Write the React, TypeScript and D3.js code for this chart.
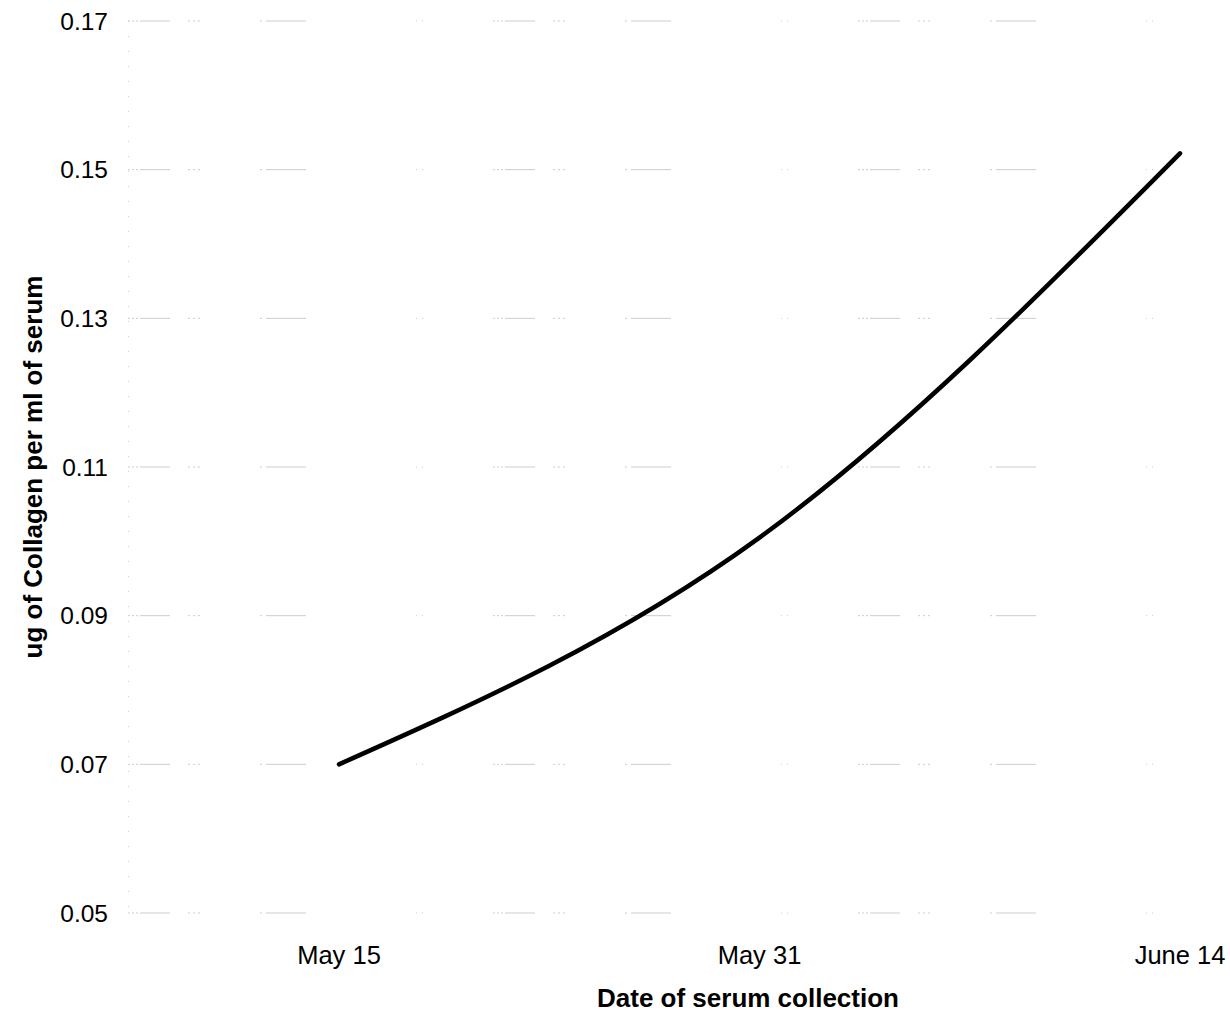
import React, { useEffect, useRef } from 'react';
import * as d3 from 'd3';

// collagen in serum on each collection date
const dates = ['May 15', 'May 31', 'June 14'];
const collagen = [0.07, 0.1005, 0.1522];
const yTicks = [0.05, 0.07, 0.09, 0.11, 0.13, 0.15, 0.17];

const WIDTH = 1230;
const HEIGHT = 1015;
const margin = { top: 21, right: 50, bottom: 102, left: 128 };

const App: React.FC = () => {
  const svgRef = useRef<SVGSVGElement>(null);

  useEffect(() => {
    if (!svgRef.current) return;
    const svg = d3.select(svgRef.current);
    svg.selectAll('*').remove();

    const innerH = HEIGHT - margin.top - margin.bottom;
    const font = 'Liberation Sans, Arial, sans-serif';

    const x = d3.scalePoint<string>()
      .domain(dates)
      .range([339, 1180]);

    const y = d3.scaleLinear()
      .domain([0.05, 0.17])
      .range([margin.top + innerH, margin.top]);

    // faint broken gridlines (scanned look)
    svg.append('g')
      .selectAll('line')
      .data(yTicks)
      .enter().append('line')
      .attr('x1', margin.left)
      .attr('x2', WIDTH - 8)
      .attr('y1', d => y(d))
      .attr('y2', d => y(d))
      .attr('stroke', '#cdcdcd')
      .attr('stroke-width', 1)
      .attr('stroke-dasharray', '2,2,2,2,2,2,30,18,2,3,2,3,2,60,2,4,40,110,1,5,1,70');

    // faint y axis line
    svg.append('line')
      .attr('x1', margin.left + 0.5)
      .attr('x2', margin.left + 0.5)
      .attr('y1', y(0.17))
      .attr('y2', y(0.05))
      .attr('stroke', '#cfcfcf')
      .attr('stroke-dasharray', '1,14');

    // y tick labels
    svg.append('g')
      .selectAll('text')
      .data(yTicks)
      .enter().append('text')
      .attr('x', 108)
      .attr('y', d => y(d))
      .attr('dy', '0.35em')
      .attr('text-anchor', 'end')
      .attr('font-family', font)
      .attr('font-size', 24.5)
      .attr('fill', '#000')
      .text(d => d.toFixed(2));

    // x tick labels
    svg.append('g')
      .selectAll('text')
      .data(dates)
      .enter().append('text')
      .attr('x', d => x(d)!)
      .attr('y', 964)
      .attr('text-anchor', 'middle')
      .attr('font-family', font)
      .attr('font-size', 25.5)
      .attr('fill', '#000')
      .text(d => d);

    // axis titles
    svg.append('text')
      .attr('x', 748)
      .attr('y', 1007)
      .attr('text-anchor', 'middle')
      .attr('font-family', font)
      .attr('font-size', 26)
      .attr('font-weight', 'bold')
      .text('Date of serum collection');

    svg.append('text')
      .attr('transform', `translate(42,${y(0.11)}) rotate(-90)`)
      .attr('text-anchor', 'middle')
      .attr('font-family', font)
      .attr('font-size', 26)
      .attr('font-weight', 'bold')
      .text('ug of Collagen per ml of serum');

    const line = d3.line<number>()
      .x((_d, i) => x(dates[i])!)
      .y(d => y(d))
      .curve(d3.curveNatural);

    svg.append('path')
      .datum(collagen)
      .attr('d', line)
      .attr('fill', 'none')
      .attr('stroke', '#000')
      .attr('stroke-width', 4.5)
      .attr('stroke-linecap', 'round');
  }, []);

  return (
    <svg
      ref={svgRef}
      width={WIDTH}
      height={HEIGHT}
      style={{ display: 'block', position: 'absolute', left: 0, top: 0, background: '#fff' }}
    />
  );
};

export default App;
